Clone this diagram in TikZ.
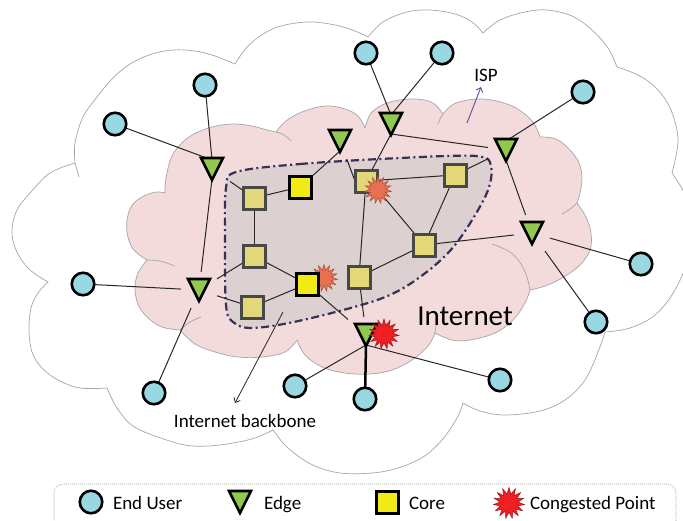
\documentclass[tikz,border=0pt]{standalone}
\usepackage{fontspec}
\setmainfont{Carlito}
\usetikzlibrary{shapes.geometric,arrows.meta,backgrounds,calc}

\definecolor{userblue}{RGB}{153,216,226}
\definecolor{edgegreen}{RGB}{146,200,80}
\definecolor{corekhaki}{RGB}{226,216,122}
\definecolor{coreyellow}{RGB}{242,234,20}
\definecolor{coreborder}{RGB}{72,72,72}
\definecolor{cloudpink}{RGB}{243,219,220}
\definecolor{cloudgray}{RGB}{166,166,166}
\definecolor{bbfill}{RGB}{221,208,208}
\definecolor{bbline}{RGB}{58,48,85}
\definecolor{hotorange}{RGB}{231,112,82}
\definecolor{hotred}{RGB}{238,32,36}
\definecolor{ispviolet}{RGB}{95,80,150}

\begin{document}
\begin{tikzpicture}[x=1pt,y=-1pt,
  font=\fontsize{19}{23}\selectfont,
  every node/.style={outer sep=0pt},
  user/.style={circle,draw=black,line width=2.6pt,fill=userblue,minimum size=22.5pt,inner sep=0pt},
  edgenode/.style={rectangle,minimum size=36pt,inner sep=0pt,
    path picture={\draw[line width=2.6pt,fill=edgegreen,line join=miter]
      ([shift={(-11,-11)}]path picture bounding box.center) --
      ([shift={(11,-11)}]path picture bounding box.center) --
      ([shift={(0,11)}]path picture bounding box.center) -- cycle;}},
  corebox/.style={rectangle,draw=coreborder,line width=3pt,fill=corekhaki,minimum size=22pt,inner sep=0pt},
  corehot/.style={corebox,draw=black,fill=coreyellow},
  hot/.style={star,star points=15,star point ratio=1.7,minimum size=27pt,inner sep=0pt,line width=0.5pt},
  hotA/.style={hot,fill=hotorange,draw=hotorange!70!black},
  hotB/.style={hot,fill=hotred,draw=hotred!65!black,minimum size=30pt},
  link/.style={draw=black!85,line width=1pt},
  cloudedge/.style={draw=cloudgray,line width=0.7pt},
  puff/.style={smooth,tension=0.6},
  label/.style={inner sep=0pt}
]
\useasboundingbox (0,0) rectangle (683,520);

% congested point hidden partly behind a core router
\node[hotA] (hot2) at (324,278) {};

% core routers
\node[corebox] (c1) at (254,198) {};
\node[corehot] (c2) at (300,187) {};
\node[corebox] (c3) at (366,181) {};
\node[corebox] (c4) at (455,175) {};
\node[corebox] (c5) at (254,256) {};
\node[corebox] (c6) at (424,245) {};
\node[corehot] (c7) at (307,284) {};
\node[corebox] (c8) at (359,277) {};
\node[corebox] (c9) at (252,307) {};

\node[hotA] (hot1) at (378,190) {};

% edge routers
\node[edgenode] (e1) at (212,169) {};
\node[edgenode] (e2) at (340,141) {};
\node[edgenode] (e3) at (391,124) {};
\node[edgenode] (e4) at (506,150) {};
\node[edgenode] (e5) at (532,233) {};
\node[edgenode] (e6) at (199,290) {};
\node[edgenode] (e7) at (366,335) {};

\node[hotB] (hot3) at (384,334) {};

% end users
\node[user] (u1) at (115,124) {};
\node[user] (u2) at (205,85) {};
\node[user] (u3) at (366,53) {};
\node[user] (u4) at (442,53) {};
\node[user] (u5) at (583,92) {};
\node[user] (u6) at (641,264) {};
\node[user] (u7) at (596,322) {};
\node[user] (u8) at (83,284) {};
\node[user] (u9) at (154,393) {};
\node[user] (u10) at (295,386) {};
\node[user] (u11) at (365,399) {};
\node[user] (u12) at (500,380) {};

% labels
\node[label,anchor=base] (isp) at (486,81) {ISP};
\node[label,anchor=base] (backbone) at (245,427) {Internet backbone};
\node[label,anchor=base,font=\fontsize{29}{34}\selectfont] (internet) at (465,325) {Internet};
\coordinate (ispfoot) at (467,123);
\coordinate (isptip) at (481,87);
\coordinate (bbfoot) at (283,312);
\coordinate (bbtip) at (235,403);

% legend
\node[draw=cloudgray,line width=0.6pt,dash pattern=on 1pt off 1pt,rounded corners=9pt,
      minimum width=622pt,minimum height=46pt] (legendbox) at (365,507) {};
\node[user] (lguser) at (91,502) {};
\node[label,anchor=base west] (lgusertext) at (113,509) {End User};
\node[edgenode] (lgedge) at (240,502) {};
\node[label,anchor=base west] (lgedgetext) at (264,509) {Edge};
\node[corehot] (lgcore) at (387,502) {};
\node[label,anchor=base west] (lgcoretext) at (409,509) {Core};
\node[hotB,minimum size=31pt] (lghot) at (509,503) {};
\node[label,anchor=base west] (lghottext) at (530,509) {Congested Point};

\begin{scope}[on background layer]
  \fill[white] (0,0) rectangle (683,520);

  % ISP cloud
  \draw[cloudedge,fill=white]
    plot[puff] coordinates {(48,282) (29,269) (16,250) (12,230) (17,210) (30,193) (50,173) (75,163)}
    -- plot[puff] coordinates {(75,163) (75,143) (83,117) (97,97) (112,79) (130,64) (152,54) (173,50) (195,51) (215,56) (235,64)}
    -- plot[puff] coordinates {(235,64) (250,44) (275,28) (307,22) (335,25) (355,31) (368,37)}
    -- plot[puff] coordinates {(368,37) (383,22) (407,12) (430,10) (455,14) (472,22) (483,33)}
    -- plot[puff] coordinates {(483,33) (500,20) (525,12) (547,10) (572,16) (592,30) (608,48) (617,67)}
    -- plot[puff] coordinates {(617,67) (640,76) (658,90) (671,110) (678,140) (672,173)}
    -- plot[puff] coordinates {(672,173) (685,195) (692,225) (688,258) (675,290) (655,315) (630,328) (605,332)}
    -- plot[puff] coordinates {(605,332) (598,352) (585,380) (565,400) (540,411) (505,415) (480,411) (463,403)}
    -- plot[puff] coordinates {(463,403) (457,418) (442,440) (423,457) (398,468) (372,473) (340,473) (315,466) (298,456) (284,444) (273,430)}
    -- plot[puff] coordinates {(273,430) (255,438) (233,443) (208,446) (185,445) (158,437) (133,426) (117,408) (107,388)}
    -- plot[puff] coordinates {(107,388) (80,388) (58,380) (42,368) (32,352) (29,330) (31,308) (38,293) (48,282)}
    -- cycle;
  \draw[cloudedge] plot[puff] coordinates {(75,163) (77,170) (79,177)};

  % Internet cloud
  \draw[cloudedge,fill=cloudpink]
    plot[puff] coordinates {(147,260) (133,249) (127,232) (128,215) (134,203) (146,195) (157,192) (165,193)}
    -- plot[puff] coordinates {(165,193) (166,178) (172,156) (184,141) (198,132) (216,126) (234,124) (252,126) (267,130) (276,132)}
    -- plot[puff] coordinates {(276,132) (286,121) (302,112) (325,106) (345,109) (358,116) (365,128)}
    -- plot[puff] coordinates {(365,128) (372,112) (390,102) (415,99) (433,103) (443,114)}
    -- plot[puff] coordinates {(443,114) (456,103) (483,99) (512,106) (532,121) (540,137)}
    -- plot[puff] coordinates {(540,137) (556,139) (570,150) (579,163) (582,178) (580,193) (577,203)}
    -- plot[puff] coordinates {(577,203) (586,217) (591,233) (590,250) (580,265) (562,278) (545,286) (530,290)}
    -- plot[puff] coordinates {(530,290) (525,303) (513,320) (495,333) (470,340) (452,340) (435,333)}
    -- plot[puff] coordinates {(435,333) (428,346) (412,360) (392,370) (370,374) (345,373) (322,367) (305,355) (297,340)}
    -- plot[puff] coordinates {(297,340) (285,352) (262,357) (238,357) (215,352) (195,344) (180,330)}
    -- plot[puff] coordinates {(180,330) (162,327) (147,317) (138,304) (135,288) (138,273) (147,260)}
    -- cycle;
  \draw[cloudedge] plot[puff] coordinates {(276,132) (284,135) (291,141)};
  \draw[cloudedge] plot[puff] coordinates {(443,114) (440,119) (438,124)};
  \draw[cloudedge] plot[puff] coordinates {(577,203) (570,209) (562,214)};
  \draw[cloudedge] plot[puff] coordinates {(492,244) (510,252) (521,264) (527,277) (530,290)};
  \draw[cloudedge] plot[puff] coordinates {(435,333) (436,326) (438,319)};
  \draw[cloudedge] plot[puff] coordinates {(180,330) (190,322) (201,317)};
  \draw[cloudedge] plot[puff] coordinates {(147,260) (160,261) (175,266)};

  % backbone region
  \draw[bbline,line width=2.2pt,fill=bbfill,dash pattern=on 8pt off 3.5pt on 2pt off 3.5pt]
    plot[smooth cycle,tension=0.55] coordinates {(236,172) (300,164) (400,158) (476,156) (491,166) (486,195) (455,245) (420,277) (380,299) (303,320) (253,328) (233,322) (226,305) (225,240) (226,188)};

  % connectors
  \draw[link] (u1) -- ($(e1)+(0,-9)$);
  \draw[link] (u2) -- ($(e1)+(0,-9)$);
  \draw[link] (e1) -- (c1);
  \draw[link] ($(e1)+(0,10)$) -- (e6);
  \draw[link] (u3) -- ($(e3)+(0,-9)$);
  \draw[link] (u4) -- ($(e3)+(0,-9)$);
  \draw[link] ($(e3)+(0,10)$) -- (e4);
  \draw[link] ($(e3)+(0,10)$) -- (c3);
  \draw[link] ($(e2)+(0,10)$) -- (c2);
  \draw[link] (e2) -- (c3.west);
  \draw[link] (u5) -- ($(e4)+(0,-9)$);
  \draw[link] (e4) -- (c4);
  \draw[link] ($(e4)+(0,10)$) -- (e5);
  \draw[link] (c1) -- (c2);
  \draw[link] (c1) -- (c5);
  \draw[link] (c3) -- (c4);
  \draw[link] (hot1) -- (c6);
  \draw[link] (c3) -- (c8);
  \draw[link] (c4) -- (c6);
  \draw[link] (c6) -- (e5);
  \draw[link] (c6) -- (c8);
  \draw[link] (e5) -- (u6);
  \draw[link] (e5) -- (u7);
  \draw[link] (c5) -- (e6);
  \draw[link] (c5) -- (c7);
  \draw[link] (c9) -- (e6);
  \draw[link] (c9) -- (c7);
  \draw[link] (u8) -- (e6);
  \draw[link] (e6) -- (u9);
  \draw[link] (c7) -- (e7);
  \draw[link] (c8) -- (e7);
  \draw[link] ($(e7)+(0,10)$) -- (u10);
  \draw[link,line width=2.5pt,draw=black] ($(e7)+(0,10)$) -- (u11);
  \draw[link] ($(e7)+(0,10)$) -- (u12);

  % pointers to the two regions
  \draw[ispviolet,line width=0.9pt,-{Straight Barb[length=4pt,width=7pt]}] (ispfoot) -- (isptip);
  \draw[black!85,line width=0.8pt,-{Straight Barb[length=4pt,width=7pt]}] (bbfoot) -- (bbtip);
\end{scope}
\end{tikzpicture}
\end{document}
